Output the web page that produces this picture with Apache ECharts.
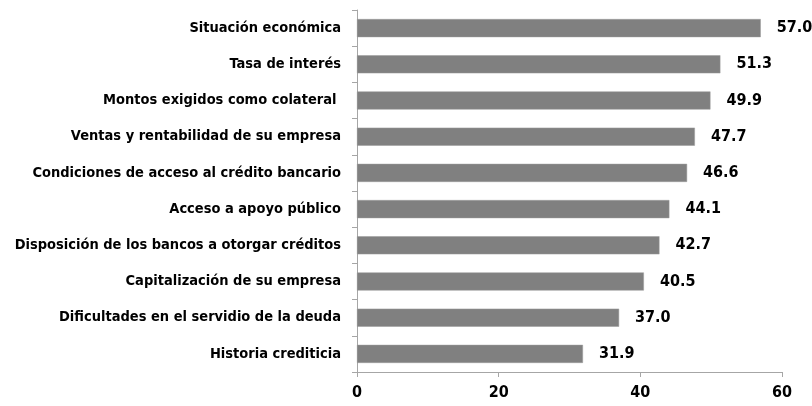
<!DOCTYPE html>
<html>
<head>
<meta charset="utf-8">
<script src="https://cdn.jsdelivr.net/npm/echarts@6/dist/echarts.min.js"></script>
<style>
  html, body { margin: 0; padding: 0; background: #fff; }
  #chart { width: 812px; height: 406px; }
</style>
</head>
<body>
<div id="chart"></div>
<script>
// categories, top to bottom
const categories = [
  'Situación económica',
  'Tasa de interés',
  'Montos exigidos como colateral ',
  'Ventas y rentabilidad de su empresa',
  'Condiciones de acceso al crédito bancario',
  'Acceso a apoyo público',
  'Disposición de los bancos a otorgar créditos',
  'Capitalización de su empresa',
  'Dificultades en el servidio de la deuda',
  'Historia crediticia'
];
const values = [57.0, 51.3, 49.9, 47.7, 46.6, 44.1, 42.7, 40.5, 37.0, 31.9];

const font = '"DejaVu Sans Condensed", "Liberation Sans Narrow", sans-serif';
const axisGray = '#a6a6a6';

const chart = echarts.init(document.getElementById('chart'));
chart.setOption({
  animation: false,
  grid: { left: 357, right: 30, top: 10, bottom: 34 },
  xAxis: {
    type: 'value',
    min: 0,
    max: 60,
    interval: 20,
    splitLine: { show: false },
    axisLine: { show: true, lineStyle: { color: axisGray, width: 1 } },
    axisTick: { show: true, length: 5, lineStyle: { color: axisGray } },
    axisLabel: {
      margin: 13,
      color: '#000',
      fontFamily: font,
      fontWeight: 'bold',
      fontSize: 16
    }
  },
  yAxis: {
    type: 'category',
    inverse: true,
    data: categories,
    axisLine: { show: true, lineStyle: { color: axisGray, width: 1 } },
    axisTick: { show: true, length: 5, lineStyle: { color: axisGray } },
    axisLabel: {
      margin: 16,
      color: '#000',
      fontFamily: font,
      fontWeight: 'bold',
      fontSize: 14.5
    }
  },
  series: [{
    type: 'bar',
    data: values,
    barCategoryGap: '50%',
    itemStyle: { color: '#808080', borderColor: '#9a9a9a', borderWidth: 0.5 },
    label: {
      show: true,
      position: 'right',
      distance: 16,
      formatter: p => p.value.toFixed(1),
      color: '#000',
      fontFamily: font,
      fontWeight: 'bold',
      fontSize: 16
    }
  }]
});
</script>
</body>
</html>
